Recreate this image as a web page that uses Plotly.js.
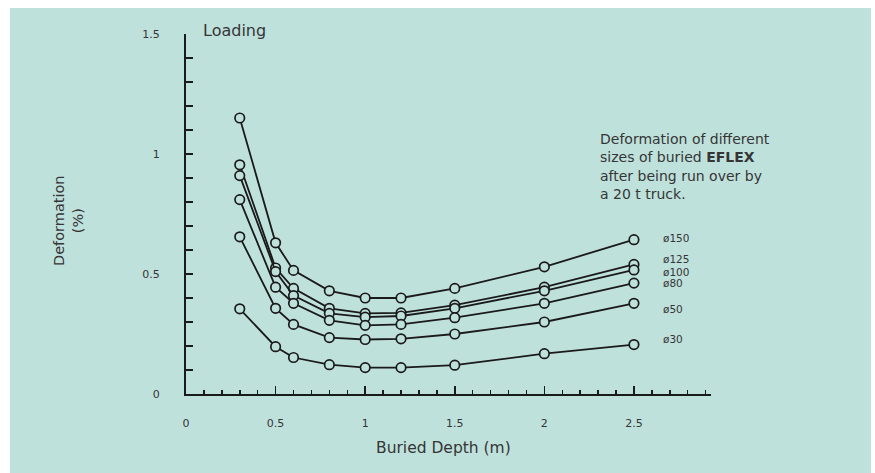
<!DOCTYPE html>
<html>
<head>
<meta charset="utf-8">
<script src="https://cdn.plot.ly/plotly-3.0.1.min.js"></script>
<style>
  html, body { margin: 0; padding: 0; background: #ffffff; width: 875px; height: 473px; overflow: hidden; }
  #chart { position: absolute; left: 10px; top: 8px; width: 861px; height: 465px; }
</style>
</head>
<body>
<div id="chart"></div>
<script>
// ---- data ----
const depth = [0.3, 0.5, 0.6, 0.8, 1.0, 1.2, 1.5, 2.0, 2.5];
const seriesNames = ["ø150", "ø125", "ø100", "ø80", "ø50", "ø30"];
const d150 = [1.15, 0.63, 0.515, 0.43, 0.40, 0.40, 0.44, 0.53, 0.643];
const d125 = [0.955, 0.525, 0.44, 0.357, 0.336, 0.338, 0.37, 0.445, 0.54];
const d100 = [0.91, 0.51, 0.41, 0.336, 0.32, 0.325, 0.357, 0.43, 0.517];
const d80  = [0.81, 0.445, 0.378, 0.307, 0.286, 0.29, 0.318, 0.378, 0.462];
const d50  = [0.655, 0.357, 0.29, 0.235, 0.227, 0.23, 0.25, 0.30, 0.378];
const d30  = [0.355, 0.197, 0.152, 0.122, 0.11, 0.11, 0.12, 0.168, 0.206];
const seriesValues = [d150, d125, d100, d80, d50, d30];
const noteLines = ["Deformation of different", "sizes of buried <b>EFLEX</b>", "after being run over by", "a 20 t truck."];

// ---- styles ----
const BG = "#bfe1dc";
const INK = "#1a1a1a";
const TXT = "#353535";
const FONT = "DejaVu Sans, Liberation Sans, sans-serif";
const labelShift = [2, 5, -2, 0, -6, 6];

const traces = seriesNames.map((name, i) => ({
  type: "scatter",
  mode: "lines+markers",
  name: name,
  x: depth,
  y: seriesValues[i],
  line: { color: INK, width: 1.8 },
  marker: { symbol: "circle", size: 9.5, color: BG, line: { color: INK, width: 1.7 } },
  showlegend: false,
  hoverinfo: "x+y+name"
}));

const annotations = [];
seriesNames.forEach((name, i) => {
  const vals = seriesValues[i];
  annotations.push({
    x: 2.65, y: vals[vals.length - 1], xref: "x", yref: "y",
    text: name, showarrow: false, xanchor: "left", yanchor: "middle",
    yshift: labelShift[i],
    font: { family: FONT, size: 10.5, color: TXT }
  });
});
noteLines.forEach((t, i) => {
  annotations.push({
    x: 0.785, y: 0.708 - i * 0.051, xref: "paper", yref: "paper",
    text: t, showarrow: false, xanchor: "left", yanchor: "middle",
    font: { family: FONT, size: 14, color: TXT }
  });
});
annotations.push({
  x: 0.029, y: 1.011, xref: "paper", yref: "paper", text: "Loading",
  showarrow: false, xanchor: "left", yanchor: "middle",
  font: { family: FONT, size: 16, color: TXT }
});
annotations.push({
  x: -0.225, y: 0.483, xref: "paper", yref: "paper", text: "Deformation<br>(%)",
  showarrow: false, textangle: -90, xanchor: "center", yanchor: "middle",
  font: { family: FONT, size: 14.5, color: TXT }
});
annotations.push({
  x: 0.49, y: -0.15, xref: "paper", yref: "paper", text: "Buried Depth (m)",
  showarrow: false, xanchor: "center", yanchor: "middle",
  font: { family: FONT, size: 15.5, color: TXT }
});

const layout = {
  width: 861, height: 465,
  margin: { l: 176, r: 160, t: 26, b: 79 },
  paper_bgcolor: BG, plot_bgcolor: "rgba(0,0,0,0)",
  font: { family: FONT, color: TXT },
  xaxis: {
    range: [0, 2.93], tick0: 0, dtick: 0.5,
    ticks: "inside", ticklen: 8, tickwidth: 1.5, tickcolor: INK,
    minor: { dtick: 0.1, ticks: "inside", ticklen: 4, tickwidth: 1.5, tickcolor: INK },
    showline: true, linecolor: INK, linewidth: 2,
    showgrid: false, zeroline: false,
    tickfont: { family: FONT, size: 11, color: TXT },
    ticklabelstandoff: 18
  },
  yaxis: {
    range: [0, 1.5], tick0: 0, dtick: 0.5,
    ticks: "inside", ticklen: 7, tickwidth: 1.5, tickcolor: INK,
    minor: { dtick: 0.1, ticks: "inside", ticklen: 7, tickwidth: 1.5, tickcolor: INK },
    showline: true, linecolor: INK, linewidth: 2,
    showgrid: false, zeroline: false,
    tickfont: { family: FONT, size: 11, color: TXT },
    ticklabelstandoff: 22
  },
  annotations: annotations
};

Plotly.newPlot("chart", traces, layout, { displayModeBar: false, staticPlot: true });
</script>
</body>
</html>
